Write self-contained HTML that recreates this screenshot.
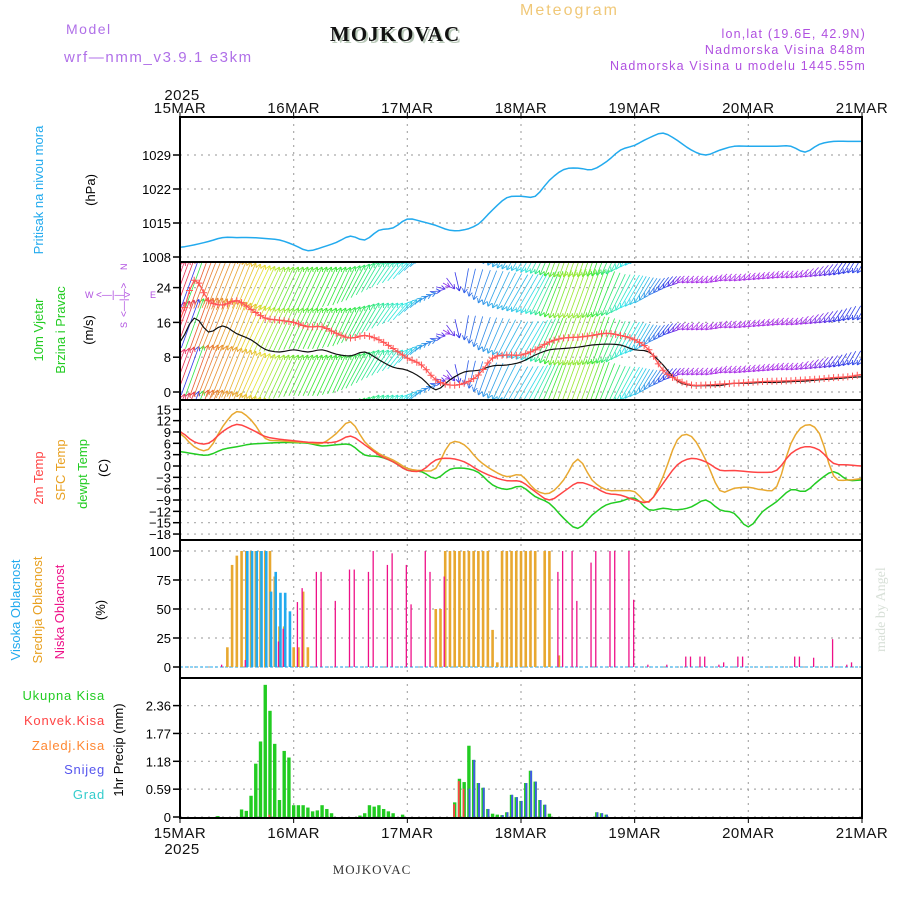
<!DOCTYPE html>
<html><head><meta charset="utf-8">
<style>
html,body{margin:0;padding:0;background:#fff;}
svg{display:block;}
text{font-family:"Liberation Sans","DejaVu Sans",sans-serif;}
text.serif{font-family:"Liberation Serif","DejaVu Serif",serif;}
.tk{font-size:13px;fill:#000;}
.day{font-size:15px;fill:#111;letter-spacing:0.5px;}
</style></head>
<body>
<svg id="chart" width="900" height="900" viewBox="0 0 900 900" xmlns="http://www.w3.org/2000/svg">
<defs>
<clipPath id="c1"><rect x="180" y="117" width="682" height="145"/></clipPath>
<clipPath id="c2"><rect x="180" y="262" width="682" height="138"/></clipPath>
<clipPath id="c3"><rect x="180" y="400" width="682" height="140"/></clipPath>
<clipPath id="c4"><rect x="180" y="540" width="682" height="138"/></clipPath>
<clipPath id="c5"><rect x="180" y="678" width="682" height="140"/></clipPath>
</defs>
<rect width="900" height="900" fill="#fff"/>
<text x="66" y="34" font-size="14" fill="#b070e8" letter-spacing="1.5">Model</text>
<text x="64" y="62" font-size="15" fill="#b070e8" letter-spacing="1.6">wrf—nmm_v3.9.1 e3km</text>
<text class="serif" x="332" y="43" font-weight="bold" font-size="21" fill="#b8c8b8" letter-spacing="1">MOJKOVAC</text>
<text class="serif" x="330" y="41" font-weight="bold" font-size="21" fill="#111" letter-spacing="1">MOJKOVAC</text>
<text x="520" y="15" font-size="16" fill="#f0c878" letter-spacing="2">Meteogram</text>
<text x="866" y="38" font-size="12.5" fill="#b050e0" text-anchor="end" letter-spacing="1.2">lon,lat (19.6E, 42.9N)</text>
<text x="866" y="54" font-size="12.5" fill="#b050e0" text-anchor="end" letter-spacing="1.2">Nadmorska Visina 848m</text>
<text x="866" y="70" font-size="12.5" fill="#b050e0" text-anchor="end" letter-spacing="1.2">Nadmorska Visina u modelu 1445.55m</text>
<text x="182" y="100" class="day" text-anchor="middle">2025</text>
<text x="182" y="854" class="day" text-anchor="middle">2025</text>
<text class="serif" x="372" y="874" font-size="13" fill="#333" text-anchor="middle" letter-spacing="1">MOJKOVAC</text>
<text class="serif" transform="translate(885,652) rotate(-90)" font-size="14" fill="#d8e0d8">made by Angel</text>

<text transform="translate(43,190) rotate(-90)" font-size="13" fill="#22aaee" text-anchor="middle">Pritisak na nivou mora</text>
<text transform="translate(95,190) rotate(-90)" font-size="13" fill="#000" text-anchor="middle">(hPa)</text>

<text transform="translate(43,330) rotate(-90)" font-size="13" fill="#22cc22" text-anchor="middle">10m Vjetar</text>
<text transform="translate(65,330) rotate(-90)" font-size="13" fill="#22cc22" text-anchor="middle">Brzina i Pravac</text>
<text transform="translate(93,330) rotate(-90)" font-size="13" fill="#000" text-anchor="middle">(m/s)</text>
<g fill="#b050e0" font-size="9">
<text x="85" y="298">W</text><text x="150" y="298">E</text>
<text transform="translate(127,270) rotate(-90)">N</text>
<text transform="translate(127,328) rotate(-90)">S</text>
<text transform="translate(127,317) rotate(-90)" font-size="10">&lt;—|—&gt;</text>
<text x="96" y="298" font-size="10">&lt;—|—&gt;</text>
</g>

<text transform="translate(43,478) rotate(-90)" font-size="13" fill="#ff4444" text-anchor="middle">2m Temp</text>
<text transform="translate(65,470) rotate(-90)" font-size="13" fill="#e8a020" text-anchor="middle">SFC Temp</text>
<text transform="translate(87,474) rotate(-90)" font-size="13" fill="#22cc22" text-anchor="middle">dewpt Temp</text>
<text transform="translate(108,468) rotate(-90)" font-size="13" fill="#000" text-anchor="middle">(C)</text>

<text transform="translate(20,610) rotate(-90)" font-size="13" fill="#22aaee" text-anchor="middle">Visoka Oblacnost</text>
<text transform="translate(42,610) rotate(-90)" font-size="13" fill="#e8a020" text-anchor="middle">Srednja Oblacnost</text>
<text transform="translate(64,612) rotate(-90)" font-size="13" fill="#ee1188" text-anchor="middle">Niska Oblacnost</text>
<text transform="translate(105,610) rotate(-90)" font-size="13" fill="#000" text-anchor="middle">(%)</text>

<g font-size="13" text-anchor="end" letter-spacing="0.8">
<text x="105" y="700" fill="#22cc22">Ukupna  Kisa</text>
<text x="105" y="725" fill="#ff4444">Konvek.Kisa</text>
<text x="105" y="750" fill="#ff8833">Zaledj.Kisa</text>
<text x="105" y="774" fill="#5555ee">Snijeg</text>
<text x="105" y="799" fill="#33cccc">Grad</text>
</g>
<text transform="translate(123,750) rotate(-90)" font-size="13" fill="#000" text-anchor="middle">1hr Precip (mm)</text>
<g id="plot"></g>
</svg>
<script>
// ===== data (3-hourly, 15MAR00 .. 21MAR00) =====
const dayLabels = ["15MAR","16MAR","17MAR","18MAR","19MAR","20MAR","21MAR"];
const pressTicks = [1008,1015,1022,1029];
const pressure = [1010,1010.5,1011.2,1012,1012,1012,1011.8,1011.5,1010.5,1009.3,1010,1011,1012.3,1011.5,1013.5,1014,1015.8,1015.3,1014.5,1013.5,1013.6,1014.8,1017.7,1020.2,1020.5,1020.5,1023.8,1026,1026.3,1026,1027.6,1030,1031,1032.5,1033.5,1032,1030,1029,1030,1030.8,1030.8,1030.8,1030.8,1030.8,1029.6,1031.2,1031.8,1031.8,1031.8];
const windTicks = [0,8,16,24];
const windSpeed = [11.5,17,13.8,15.2,13.4,12,9.8,9.2,9.7,9.2,9.7,8.7,8.3,9.2,7.4,5.7,5,3.2,0.5,2.8,4.6,5,6,6.2,6.9,8.5,9.7,10,10.3,10.8,11,10.8,9.7,9.2,6.2,2.5,1.5,1.5,1.5,2,2,2.2,2.2,2.4,2.5,2.8,3,3.3,3.5];
const windGust = [16.5,25.7,21,20,21,19,17,16.5,16,15,15,13.5,12.4,13,12,10,7.8,6.2,2.8,1.6,2,3.9,7.8,8.5,8.5,9.7,11.5,12.4,12.6,13,13.5,13,12,9.7,5,2.8,1.6,1.6,1.8,2,2.2,2.4,2.5,2.6,2.8,3,3.3,3.5,4];
const windDir = [20,20,20,22,22,22,25,25,25,25,25,25,25,28,30,35,40,50,70,120,190,200,205,210,210,205,200,200,200,200,205,210,210,215,220,225,225,225,225,225,225,225,225,225,225,220,215,210,210];
const windHue = [340,350,15,30,35,45,55,80,100,110,115,120,125,135,150,165,180,200,215,270,225,210,200,195,185,150,100,85,90,120,150,180,195,215,235,275,280,280,280,280,280,280,280,280,275,260,240,235,230];
const windLen = [45,50,55,55,55,50,50,48,48,45,45,45,42,40,35,28,22,15,12,8,25,35,40,42,45,48,50,52,52,50,45,38,30,20,15,10,10,10,10,10,10,10,10,10,12,14,15,16,17];
const windShift = [0,-3,-5,-5,-3,0,3,5,5,5,5,5,5,3,0,0,0,-5,-10,-16,-10,0,5,8,10,12,15,15,15,14,12,5,0,-8,-15,-20,-20,-20,-22,-22,-23,-24,-25,-25,-26,-27,-28,-30,-30];
const tempTicks = [15,12,9,6,3,0,-3,-6,-9,-12,-15,-18];
const temp2m = [9.1,6.4,6.0,9.1,11.0,9.7,7.8,7.1,6.7,6.3,6.2,6.4,7.9,5.6,2.9,1.1,-1.1,-1.2,1.6,2.0,1.1,-1.1,-2.8,-3.9,-4.1,-6.8,-9.0,-6.8,-4.4,-5.3,-7.2,-7.7,-9.0,-9.4,-4.6,0.3,2.0,1.1,-1.1,-1.2,-1.5,-1.7,-1.1,3.3,5.1,4.2,0.7,0.3,0];
const tempSfc = [8.6,5.1,4.4,10.4,14.4,12.2,7.3,6.7,6.4,6.2,6.0,8.6,11.7,6.4,3.3,1.6,-0.6,-1.2,-0.6,6.0,5.6,1.6,-1.1,-2.8,-2.4,-6.3,-7.2,-3.7,1.8,-3.7,-6.3,-6.5,-6.8,-9.6,-2.8,6.9,7.8,1.6,-6.5,-5.9,-5.6,-6.3,-5.4,6.0,10.8,8.6,-2.6,-3.7,-3.3];
const tempDew = [3.8,3.2,2.9,4.4,5.1,5.8,6.0,6.2,6.2,6.0,5.3,5.6,5.6,2.9,2.5,1.1,-1.1,-1.5,-3.3,-0.9,-0.6,-1.7,-5.0,-6.2,-5.4,-8.1,-9.9,-13.8,-16.5,-13.0,-10.3,-9.4,-8.5,-11.6,-11.2,-11.6,-10.8,-9.0,-11.6,-12.5,-16.1,-12.1,-9.4,-6.3,-6.7,-3.7,-1.5,-3.7,-3.7];
const cloudTicks = [0,25,50,75,100];
const highHours = [14,15,16,17,18,19,20,21,22,23];
const highVals  = [100,100,100,100,100,65,82,64,64,48];
const midHours = [10,11,12,13,14,15,16,17,18,19,20,21,22,24,25,26,27,54,55,56,57,58,59,60,61,62,63,64,65,66,67,68,69,70,71,72,73,74,75,77,78,80];
const midVals  = [17,88,96,100,100,100,100,100,100,100,78,35,35,17,17,65,17,50,50,100,100,100,100,100,100,100,100,100,100,32,4,100,100,100,100,100,100,100,100,100,100,10];
const lowHours = [9,14,21,22,25,26,29,30,33,36,37,40,41,44,45,48,49,52,53,56,80,81,83,84,87,88,91,92,95,96,99,103,107,108,110,111,114,115,118,119,130,131,134,138,141,142];
const lowVals  = [2,6,22,33,56,68,82,82,57,84,84,82,100,88,98,88,54,100,82,78,82,100,100,57,90,100,100,100,100,58,2,2,9,9,9,9,2,4,9,9,9,9,8,24,2,4];
const precipTicks = [0,0.59,1.18,1.77,2.36];
const precipHours = [8,13,14,15,16,17,18,19,20,21,22,23,24,25,26,27,28,29,30,31,32,38,39,40,41,42,43,44,45,47,58,59,60,61,62,63,64,65,66,67,68,69,70,71,72,73,74,75,76,77,78,88,89,90];
const precipTotal = [0.02,0.16,0.13,0.45,1.13,1.6,2.8,2.25,1.55,0.36,1.4,1.26,0.25,0.25,0.25,0.2,0.12,0.14,0.25,0.17,0.08,0.03,0.08,0.25,0.22,0.25,0.17,0.12,0.08,0.05,0.31,0.81,0.74,1.51,1.21,0.72,0.62,0.17,0.07,0.05,0.04,0.1,0.47,0.42,0.34,0.72,0.98,0.75,0.36,0.26,0.07,0.1,0.08,0.05];
const convHours = [19,58,59,60];
const convVals  = [0.05,0.27,0.76,0.6];
const snowHours = [61,62,63,64,65,68,69,70,71,72,73,74,75,76,77,88,89,90];
const snowVals  = [0.6,1.21,0.72,0.62,0.17,0.04,0.1,0.47,0.42,0.34,0.72,0.98,0.75,0.36,0.26,0.1,0.08,0.05];

// ===== geometry =====
const NS="http://www.w3.org/2000/svg";
const X0=180,X1=862,H=144;
const xh = h => X0 + h*(X1-X0)/H;
const panels = {p1:[117,262],p2:[262,400],p3:[400,540],p4:[540,678],p5:[678,818]};
const yP = v => 257 - (v-1008)*34/7;
const yW = v => 392 - v*4.35;
const yT = v => 466 - v*3.78;
const yC = v => 667 - v*1.16;
const yR = v => 817 - v*47.2;
const plot=document.getElementById('plot');
function el(tag,attrs,parent){const e=document.createElementNS(NS,tag);for(const k in attrs)e.setAttribute(k,attrs[k]);(parent||plot).appendChild(e);return e;}
function interp(arr,h){const i=h/3,a=Math.floor(i),b=Math.min(a+1,arr.length-1),f=i-a;return arr[a]*(1-f)+arr[b]*f;}
function smooth(arr){const pts=[];for(let h=0;h<=H;h++){pts.push([h,interp(arr,h)]);}
  // Catmull-Rom-ish via 3-hourly points
  const out=[];for(let h=0;h<=H;h++){const i=h/3,a=Math.floor(i),f=i-a;
    const p0=arr[Math.max(a-1,0)],p1=arr[a],p2=arr[Math.min(a+1,arr.length-1)],p3=arr[Math.min(a+2,arr.length-1)];
    const v=0.5*((2*p1)+(-p0+p2)*f+(2*p0-5*p1+4*p2-p3)*f*f+(-p0+3*p1-3*p2+p3)*f*f*f);out.push([h,v]);}
  return out;}

// grids
const grid=el('g',{});


for(let d=1;d<6;d++){el('line',{x1:xh(d*24),x2:xh(d*24),y1:117,y2:818,stroke:'#aaa','stroke-width':1.2,'stroke-dasharray':'2,5'},grid);}
function hgrid(ys){ys.forEach(y=>el('line',{x1:X0,x2:X1,y1:y,y2:y,stroke:'#aaa','stroke-width':1.2,'stroke-dasharray':'2,5'},grid));}
hgrid(pressTicks.map(yP));hgrid(windTicks.map(yW));hgrid(tempTicks.map(yT));hgrid(cloudTicks.map(yC));hgrid(precipTicks.map(yR));

// ticks + labels
function yticks(ticks,fy,name,fmt){
  const g=el('g',{});
  
  
  ticks.forEach(t=>{const y=fy(t);el('line',{x1:173,x2:180,y1:y,y2:y,stroke:'#000','stroke-width':1.5},g);
    const tx=el('text',{x:171,y:y+5,'text-anchor':'end',class:'tk'},g);tx.textContent=fmt?fmt(t):String(t);});
}
yticks(pressTicks,yP,'pressure-y-axis');
yticks(windTicks,yW,'wind-y-axis');
yticks(tempTicks,yT,'temp-y-axis',t=>t<0?'−'+(-t):String(t));
yticks(cloudTicks,yC,'cloud-y-axis');
yticks(precipTicks,yR,'precip-y-axis',t=>t===0?'0':t.toFixed(2));
dayLabels.forEach((d,i)=>{
  const x=xh(i*24);
  const t1=el('text',{x:x,y:113,class:'day','text-anchor':'middle'});t1.textContent=d;
  
  
  const t2=el('text',{x:x,y:838,class:'day','text-anchor':'middle'});t2.textContent=d;
  
  
  el('line',{x1:x,x2:x,y1:112,y2:117,stroke:'#000'});
  el('line',{x1:x,x2:x,y1:818,y2:823,stroke:'#000'});
});

function line(arr,fy,color,clip,name,w){
  const pts=smooth(arr).map(([h,v])=>xh(h).toFixed(1)+','+fy(v).toFixed(1)).join(' ');
  const p=el('polyline',{points:pts,fill:'none',stroke:color,'stroke-width':w||1.5,'stroke-linejoin':'round','clip-path':'url(#'+clip+')'});
  
  
}
// panel 1
line(pressure,yP,'#22aaee','c1','pressure-line',1.5);

// panel 2 wind arrows
const arrows=el('g',{'clip-path':'url(#c2)'});


const rowBase=[395,350,303,262];
for(let h=0;h<=H;h++){
  const dir=interp(windDir,h)*Math.PI/180, L=interp(windLen,h), sh=interp(windShift,h), hue=interp(windHue,h);
  const col='hsl('+hue.toFixed(0)+',80%,55%)';
  const ux=Math.sin(dir), uy=-Math.cos(dir);
  rowBase.forEach(b=>{
    const tx=xh(h), ty=b+sh;
    const sx=tx-ux*L, sy=ty-uy*L;
    el('line',{x1:sx,y1:sy,x2:tx,y2:ty,stroke:col,'stroke-width':0.8},arrows);
    [2.6,-2.6].forEach(a=>{const ang=Math.atan2(uy,ux)+Math.PI+a*0.2;
      el('line',{x1:tx,y1:ty,x2:tx+Math.cos(ang)*5,y2:ty+Math.sin(ang)*5,stroke:col,'stroke-width':0.9},arrows);});
  });
}
line(windSpeed,yW,'#111','c2','wind-speed-line',1.2);
line(windGust,yW,'#ff5555','c2','wind-gust-line',1.2);
const gx=el('g',{'clip-path':'url(#c2)'});


smooth(windGust).forEach(([h,v])=>{const x=xh(h),y=yW(v);
  el('path',{d:`M${x-3.5},${y}H${x+3.5}M${x},${y-3.5}V${y+3.5}`,stroke:'#ff5555','stroke-width':1},gx);});

// panel 3
line(tempDew,yT,'#22cc22','c3','dewpoint-line',1.5);
line(tempSfc,yT,'#e8a830','c3','sfc-temp-line',1.5);
line(temp2m,yT,'#ff4444','c3','temp-2m-line',1.5);

// panel 4 cloud bars
function bars(hours,vals,fy,color,w,name,base,off){
  const g=el('g',{'clip-path':'url(#'+(name.startsWith('precip')?'c5':'c4')+')'});
  
  
  hours.forEach((h,i)=>{const y=fy(vals[i]);
    el('rect',{x:xh(h)-w/2+(off||0),y:y,width:w,height:Math.max(0,base-y),fill:color},g);});
}
el('line',{x1:X0,x2:X1,y1:667,y2:667,stroke:'#22aaee','stroke-width':1,'stroke-dasharray':'3,2'});
bars(midHours,midVals,yC,'#e8a830',2.6,'cloud-mid-bars',667);
bars(highHours,highVals,yC,'#22aaee',2.6,'cloud-high-bars',667,1);
bars(lowHours,lowVals,yC,'#ee1188',1.3,'cloud-low-bars',667,-1);

// panel 5 precip
bars(precipHours,precipTotal,yR,'#22cc22',3.4,'precip-total-bars',817);
bars(convHours,convVals,yR,'#ff4444',1.8,'precip-convective-bars',817,-0.6);
bars(snowHours,snowVals,yR,'#4455ee',1.8,'precip-snow-bars',817,0.6);

// frames
Object.values(panels).forEach(([a,b])=>{
  const r=el('rect',{x:X0,y:a,width:X1-X0,height:b-a,fill:'none',stroke:'#000','stroke-width':2});
  
  
});
</script>
</body></html>
